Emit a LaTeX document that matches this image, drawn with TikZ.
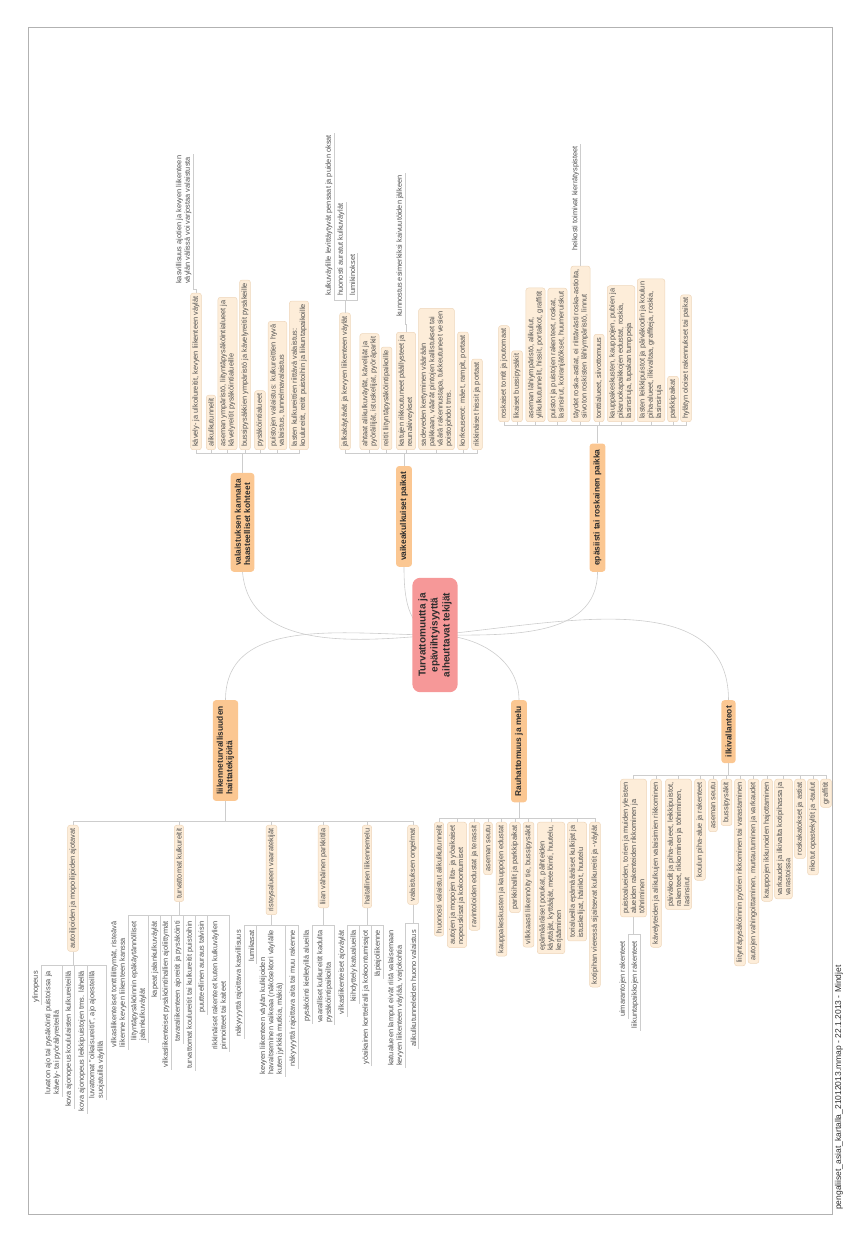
\documentclass[tikz,border=0pt]{standalone}
\usepackage{fontspec}
\setmainfont{Liberation Sans}
\usetikzlibrary{calc, positioning}

\definecolor{rootpink}{RGB}{246,152,152}
\definecolor{mainorange}{RGB}{251,199,146}
\definecolor{subpeach}{RGB}{253,237,217}
\definecolor{subedge}{RGB}{238,214,186}
\definecolor{linkgray}{RGB}{205,205,205}
\definecolor{textdark}{RGB}{45,45,45}
\definecolor{textgray}{RGB}{80,80,80}

\tikzset{
  link/.style={draw=linkgray, line width=0.6pt},
  root/.style={fill=rootpink, rounded corners=8pt, align=center, inner xsep=15pt, inner ysep=6pt,
    font=\fontsize{10}{12}\selectfont\bfseries, text=textdark},
  mainbox/.style={fill=mainorange, rounded corners=3pt, align=left, inner xsep=6pt, inner ysep=4pt,
    font=\fontsize{8.4}{9.4}\selectfont\bfseries, text=textdark},
  subbox/.style={fill=subpeach, draw=subedge, line width=0.5pt, rounded corners=2.5pt, align=left,
    inner xsep=3pt, inner ysep=2pt, font=\fontsize{7.4}{8.3}\selectfont, text=textgray},
  rbox/.style={subbox, anchor=west},
  lbox/.style={subbox, anchor=east},
  leaf/.style={align=left, inner xsep=2pt, inner ysep=1.5pt, font=\fontsize{7.4}{8.3}\selectfont, text=textgray,
    append after command={(\tikzlastnode.south west) edge[link] (\tikzlastnode.south east)}},
  rleaf/.style={leaf, anchor=south west},
  lleaf/.style={leaf, anchor=south east},
}

\begin{document}
\begin{tikzpicture}[x=1pt, y=1pt]
  \useasboundingbox (0,0) rectangle (860,1241);

  % the whole map is printed sideways: draw it in reading direction and turn it
  \begin{scope}[rotate=90, transform shape]

    % =================================================================
    % 1. FRAME AND FOOTER
    % =================================================================
    \draw[gray!60, line width=0.6pt] (27,-28) rectangle (1214,-832);
    \node[anchor=west, inner sep=0pt, font=\fontsize{8.5}{10}\selectfont, text=textdark] (footer) at (31,-839)
      {pengaliiset\_asiat\_kartalla\_21012013.mmap - 22.1.2013 - Mindjet};

    % =================================================================
    % 2. MAIN TOPICS
    % =================================================================
    \node[mainbox, anchor=west] (light) at (669,-242.5) {valaistuksen kannalta\\haasteelliset kohteet};
    \node[mainbox, anchor=west] (hard) at (674,-404) {vaikeakulkuiset paikat};
    \node[mainbox, anchor=west] (messy) at (669,-597.5) {epäsiisti tai roskainen paikka};
    \node[mainbox, anchor=east] (traffic) at (541,-225.5) {liikenneturvallisuuden\\haittatekijöitä};
    \node[mainbox, anchor=east] (noise) at (541,-519) {Rauhattomuus ja melu};
    \node[mainbox, anchor=east] (vandal) at (541,-728.5) {ilkivallanteot};

    % curves from the centre, root box drawn on top of them
    \coordinate (hub) at (606,-435);
    \draw[link] (hub) to[out=95,in=185] (light.west);
    \draw[link] (hub) to[out=75,in=180] (hard.west);
    \draw[link] (hub) to[out=-90,in=180] (messy.west);
    \draw[link] (hub) to[out=90,in=0] (traffic.east);
    \draw[link] (hub) to[out=-90,in=0] (noise.east);
    \draw[link] (hub) to[out=-85,in=0] (vandal.east);

    \node[root] (root) at (hub) {Turvattomuutta ja\\epäviihtyisyyttä\\aiheuttavat tekijät};

    % =================================================================
    % 3. VALAISTUKSEN KANNALTA HAASTEELLISET KOHTEET
    % =================================================================
    \node[rbox] (l1) at (791,-196) {kävely- ja ulkoilureitit, kevyen liikenteen väylät};
    \node[rbox] (l2) at (791,-211) {alikulkutunnelit};
    \node[rbox] (l3) at (791,-227.5) {aseman ympäristö, liityntäpysäköintialueet ja\\kävelyreitit pysäköintialueille};
    \node[rbox] (l4) at (791,-245) {bussipysäkkien ympäristö ja kävelyreitit pysäkeille};
    \node[rbox] (l5) at (791,-260) {pysäköintialueet};
    \node[rbox] (l6) at (791,-277.5) {puistojen valaistus: kulkureittien hyvä\\valaistus, tunnelmavalaistus};
    \node[rbox] (l7) at (791,-299) {lasten kulkureittien riittävä valaistus:\\koulureitit, reitit puistoihin ja liikuntapaikoille};
    \node[rleaf] (l1a) at ($(l1.east)+(7,3)$) {kasvillisuus ajotien ja kevyen liikenteen\\väylän välissä voi varjostaa valaistusta};

    \coordinate (lightbus) at (788,-242.5);
    \draw[link] (light.east) -- (lightbus);
    \foreach \c in {l1,l2,l3,l4,l5,l6,l7}
      \draw[link] (lightbus) |- (\c.west);
    \draw[link] (l1.east) -- ++(4,0) |- (l1a.south west);

    % =================================================================
    % 4. VAIKEAKULKUISET PAIKAT
    % =================================================================
    \node[rbox] (h1) at (791,-345) {jalkakäytävät ja kevyen liikenteen väylät};
    \node[rbox] (h2) at (791,-369.5) {ahtaat alikulkuväylät, kävelijät ja\\pyöräilijät, istuskelijat, pyöräparkit};
    \node[rbox] (h3) at (791,-386.5) {reitit liityntäpysäköintipaikoille};
    \node[rbox] (h4) at (791,-406) {katujen rikkoutuneet päällysteet ja\\reunakiveykset};
    \node[rbox] (h5) at (791,-436.5) {sadeveden kertyminen väärään\\paikkaan, väärät pintojen kallistukset tai\\väärä rakennustapa, tukkeutuneet vesien\\poistojohdot tms.};
    \node[rbox] (h6) at (791,-463) {korkeuserot: mäet, rampit, portaat};
    \node[rbox] (h7) at (791,-477) {rikkinäiset hissit ja portaat};

    \node[rleaf] (h1a) at ($(h1.east)+(15,11)$) {kulkuväylille levittäytyvät pensaat ja puiden oksat};
    \node[rleaf] (h1b) at ($(h1.east)+(15,-1)$) {huonosti auratut kulkuväylät};
    \node[rleaf] (h1c) at ($(h1.east)+(15,-12)$) {lumikinokset};
    \node[rleaf] (h4a) at ($(h4.east)+(13,1)$) {kunnostus esimerkiksi kaivuutöiden jälkeen};

    \coordinate (hardbus) at (788,-404);
    \draw[link] (hard.east) -- (hardbus);
    \foreach \c in {h1,h2,h3,h4,h5,h6,h7}
      \draw[link] (hardbus) |- (\c.west);
    \draw[link] (h1.east) -- ++(12,0) coordinate (h1bus);
    \foreach \c in {h1a,h1b,h1c}
      \draw[link] (h1bus) |- (\c.south west);
    \draw[link] (h4.east) -- ++(8,0) |- (h4a.south west);

    % =================================================================
    % 5. EPÄSIISTI TAI ROSKAINEN PAIKKA
    % =================================================================
    \node[rbox] (m1) at (819,-504) {roskaiset tontit ja joutomaat};
    \node[rbox] (m2) at (819,-517) {likaiset bussipysäkit};
    \node[rbox] (m3) at (819,-535.5) {aseman lähiympäristö, alikulut,\\ylikulkutunnelit, hissit, portaikot, graffitit};
    \node[rbox] (m4) at (819,-557.5) {puistot ja puistojen rakenteet, roskat,\\lasinsirut, koiranjätökset, huumeruiskut};
    \node[rbox] (m5) at (819,-580.5) {täydet roska-astiat, ei riittävästi roska-astioita,\\siivoton roskisten lähiympäristö, linnut};
    \node[rbox] (m6) at (819,-599) {tonttialueet, siivottomuus};
    \node[rbox] (m7) at (819,-621) {kauppakeskusten, kauppojen, pubien ja\\pikaruokapaikkojen edustat, roskia,\\lasinsiruja, tupakan tumppeja};
    \node[rbox] (m8) at (819,-651) {lasten leikkipuistot ja päiväkodin ja koulun\\piha-alueet, ilkivaltaa, graffiteja, roskia,\\lasinsiruja};
    \node[rbox] (m9) at (819,-673) {parkkipaikat};
    \node[rbox] (m10) at (819,-686) {hylätyn oloiset rakennukset tai paikat};
    \node[rleaf] (m5a) at ($(m5.east)+(13,0)$) {heikosti toimivat kierrätyspisteet};

    \coordinate (messybus) at (816,-597.5);
    \draw[link] (messy.east) -- (messybus);
    \foreach \c in {m1,m2,m3,m4,m5,m6,m7,m8,m9,m10}
      \draw[link] (messybus) |- (\c.west);
    \draw[link] (m5.east) -- ++(8,0) |- (m5a.south west);

    % =================================================================
    % 6. LIIKENNETURVALLISUUDEN HAITTATEKIJÖITÄ
    % =================================================================
    \node[lbox] (t1) at (416,-73) {autoilijoiden ja mopoilijoiden ajotavat};
    \node[lbox] (t2) at (416,-179) {turvattomat kulkureitit};
    \node[lbox] (t3) at (416,-271.5) {risteysalueen vaaratekijät};
    \node[lbox] (t4) at (416,-323.5) {liian vähäinen parkkitila};
    \node[lbox] (t5) at (416,-367) {haitallinen liikennemelu};
    \node[lbox] (t6) at (416,-413) {valaistuksen ongelmat};

    \coordinate (trafficbus) at (419.5,-225.5);
    \draw[link] (traffic.west) -- (trafficbus);
    \foreach \c in {t1,t2,t3,t4,t5,t6}
      \draw[link] (trafficbus) |- (\c.east);

    % autoilijat
    \node[lleaf] (t1a) at (272,-41) {ylinopeus};
    \node[lleaf] (t1b) at (272,-62) {luvaton ajo tai pysäköinti puistoissa ja\\kävely- tai pyöräilyreiteillä};
    \node[lleaf] (t1c) at (272,-74) {kova ajonopeus koululaisten kulkureiteillä};
    \node[lleaf] (t1d) at (272,-87) {kova ajonopeus leikkipuistojen tms. lähellä};
    \node[lleaf] (t1e) at (272,-106) {luvattomat ”oikaisureitit”, ajo ajoesteillä\\suojatuilla väylillä};
    \coordinate (t1bus) at (276,-73);
    \draw[link] (t1.west) -- (t1bus);
    \foreach \c in {t1a,t1b,t1c,t1d,t1e}
      \draw[link] (t1bus) |- (\c.south east);

    % kulkureitit
    \node[lleaf] (t2a) at (322,-128) {vilkasliikenteiset tonttiliittymät, risteävä\\liikenne kevyen liikenteen kanssa};
    \node[lleaf] (t2b) at (322,-148) {liityntäpysäköinnin epäkäytännölliset\\jalankulkuväylät};
    \node[lleaf] (t2c) at (322,-160) {kapeat jalankulkuväylät};
    \node[lleaf] (t2d) at (322,-171) {vilkasliikenteiset pysäköintihallien ajoliittymät};
    \node[lleaf] (t2e) at (322,-183) {tavaraliikenteen ajoreitit ja pysäköinti};
    \node[lleaf] (t2f) at (322,-195) {turvattomat koulureitit tai kulkureitit puistoihin};
    \node[lleaf] (t2g) at (322,-207) {puutteellinen auraus talvisin};
    \node[lleaf] (t2h) at (322,-229) {rikkinäiset rakenteet kuten kulkuväylien\\pinnoitteet tai kaiteet};
    \coordinate (t2bus) at (325.5,-179);
    \draw[link] (t2.west) -- (t2bus);
    \foreach \c in {t2a,t2b,t2c,t2d,t2e,t2f,t2g,t2h}
      \draw[link] (t2bus) |- (\c.south east);

    % risteysalue
    \node[lleaf] (t3a) at (313,-244) {näkyvyyttä rajoittava kasvillisuus};
    \node[lleaf] (t3b) at (313,-256) {lumikasat};
    \node[lleaf] (t3c) at (313,-285) {kevyen liikenteen väylän kulkijoiden\\havaitseminen vaikeaa (näkösektori väylälle\\kuten jyrkkiä mutkia, mäkiä)};
    \node[lleaf] (t3d) at (313,-298) {näkyvyyttä rajoittava aita tai muu rakenne};
    \coordinate (t3bus) at (316,-271.5);
    \draw[link] (t3.west) -- (t3bus);
    \foreach \c in {t3a,t3b,t3c,t3d}
      \draw[link] (t3bus) |- (\c.south east);

    % parkkitila
    \node[lleaf] (t4a) at (313,-312) {pysäköinti kielletyillä alueilla};
    \node[lleaf] (t4b) at (313,-334) {vaaralliset kulkureitit kadulta\\pysäköintipaikoilta};
    \coordinate (t4bus) at (316,-323.5);
    \draw[link] (t4.west) -- (t4bus);
    \foreach \c in {t4a,t4b}
      \draw[link] (t4bus) |- (\c.south east);

    % liikennemelu
    \node[lleaf] (t5a) at (313,-347) {vilkasliikenteiset ajoväylät};
    \node[lleaf] (t5b) at (313,-359) {kiihdyttely katualueilla};
    \node[lleaf] (t5c) at (313,-371) {yöaikainen kortteliralli ja kokoontumisajot};
    \node[lleaf] (t5d) at (313,-383) {läpiajoliikenne};
    \coordinate (t5bus) at (316,-367);
    \draw[link] (t5.west) -- (t5bus);
    \foreach \c in {t5a,t5b,t5c,t5d}
      \draw[link] (t5bus) |- (\c.south east);

    % valaistus
    \node[lleaf] (t6a) at (313,-405) {katualueen lamput eivät riitä valaisemaan\\kevyen liikenteen väylää, varjokohtia};
    \node[lleaf] (t6b) at (313,-418) {alikulkutunneleiden huono valaistus};
    \coordinate (t6bus) at (318,-413);
    \draw[link] (t6.west) -- (t6bus);
    \foreach \c in {t6a,t6b}
      \draw[link] (t6bus) |- (\c.south east);

    % =================================================================
    % 7. RAUHATTOMUUS JA MELU
    % =================================================================
    \node[lbox] (n1) at (419,-439) {huonosti valaistut alikulkutunnelit};
    \node[lbox] (n2) at (419,-457) {autojen ja mopojen ilta- ja yöaikaiset\\nopeuskisat ja kokoontumiset};
    \node[lbox] (n3) at (419,-474.5) {ravintoloiden edustat ja terassit};
    \node[lbox] (n4) at (419,-488) {aseman seutu};
    \node[lbox] (n5) at (419,-501.5) {kauppakeskusten ja kauppojen edustat};
    \node[lbox] (n6) at (419,-515) {parkkihallit ja parkkipaikat};
    \node[lbox] (n7) at (419,-528.5) {vilkkaasti liikennöity tie, bussipysäkit};
    \node[lbox] (n8) at (419,-551) {epämääräiset porukat, päihteiden\\käyttäjät, kyttääjät, metelöinti, huutelu,\\kerjääminen};
    \node[lbox] (n9) at (419,-577) {torialueilla epämääräiset kulkijat ja\\istuskelijat, häiriköt, huutelu};
    \node[lbox] (n10) at (419,-595) {kotipihan vieressä sijaitsevat kulkureitit ja -väylät};

    \coordinate (noisebus) at (423,-519);
    \draw[link] (noise.west) -- (noisebus);
    \foreach \c in {n1,n2,n3,n4,n5,n6,n7,n8,n9,n10}
      \draw[link] (noisebus) |- (\c.east);

    % =================================================================
    % 8. ILKIVALLANTEOT
    % =================================================================
    \node[lbox] (v1) at (462,-633.5) {puistoalueiden, torien ja muiden yleisten\\alueiden rakenteiden rikkominen ja\\töhriminen};
    \node[lbox] (v2) at (462,-656) {kävelyteiden ja alikulkujen valaisimien rikkominen};
    \node[lbox] (v3) at (462,-678.5) {päiväkodit ja piha-alueet, leikkipuistot,\\rakenteet, rikkominen ja töhriminen,\\lasinsirut};
    \node[lbox] (v4) at (462,-700) {koulun piha-alue ja rakenteet};
    \node[lbox] (v5) at (462,-713) {aseman seutu};
    \node[lbox] (v6) at (462,-726.5) {bussipysäkit};
    \node[lbox] (v7) at (462,-740) {liityntäpysäköinnin pyörien rikkominen tai varastaminen};
    \node[lbox] (v8) at (462,-753.5) {autojen vahingoittaminen, murtautuminen ja varkaudet};
    \node[lbox] (v9) at (462,-767) {kauppojen ikkunoiden hajottaminen};
    \node[lbox] (v10) at (462,-783.5) {varkaudet ja ilkivalta kotipihassa ja\\varastoissa};
    \node[lbox] (v11) at (462,-800) {roskakatokset ja astiat};
    \node[lbox] (v12) at (462,-813) {rikotut opastekyltit ja -taulut};
    \node[lbox] (v13) at (462,-826) {graffitit};

    \coordinate (vandalbus) at (466,-728.5);
    \draw[link] (vandal.west) -- (vandalbus);
    \foreach \c in {v1,v2,v3,v4,v5,v6,v7,v8,v9,v10,v11,v12,v13}
      \draw[link] (vandalbus) |- (\c.east);

    \node[lleaf] (v1a) at (302,-628) {uimarantojen rakenteet};
    \node[lleaf] (v1b) at (302,-640) {liikuntapaikkojen rakenteet};
    \coordinate (v1bus) at (307,-633.5);
    \draw[link] (v1.west) -- (v1bus);
    \foreach \c in {v1a,v1b}
      \draw[link] (v1bus) |- (\c.south east);

  \end{scope}
\end{tikzpicture}
\end{document}
